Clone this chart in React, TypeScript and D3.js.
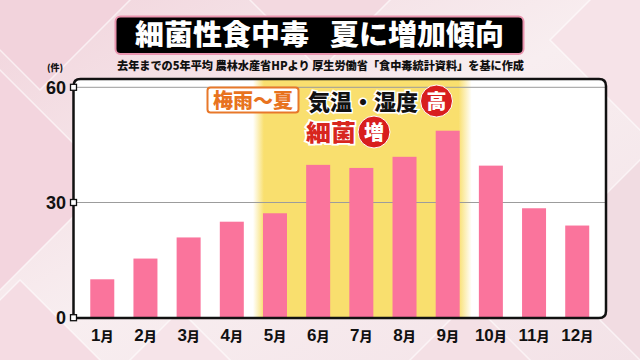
import React from "react";
import * as d3 from "d3";

const months = ["1月", "2月", "3月", "4月", "5月", "6月", "7月", "8月", "9月", "10月", "11月", "12月"];
const monthNums = ["1", "2", "3", "4", "5", "6", "7", "8", "9", "10", "11", "12"];
const cases = [10, 15.4, 20.9, 25, 27.2, 39.8, 39, 41.9, 48.7, 39.6, 28.5, 24];
const yTicks = [0, 30, 60];
const titleParts = ["細菌性食中毒", "夏に増加傾向"];
const subtitle = "去年までの5年平均  農林水産省HPより  厚生労働省「食中毒統計資料」を基に作成";
const unitLabel = "(件)";
const highlightMonths = ["5月", "9月"];

const FONT = "'Noto Sans CJK JP', 'Noto Sans', sans-serif";
const NUMFONT = "'Liberation Sans', Arial, sans-serif";

export default function App() {
  const W = 640, H = 360;
  const box = { x0: 73.5, x1: 606, y0: 79, y1: 318 };
  const x = d3.scaleBand<string>().domain(months).range([73, 606.5]).paddingInner(0.444).paddingOuter(0.4);
  const y = d3.scaleLinear().domain([0, 60]).range([317.7, 87.3]);
  const hx0 = (x(highlightMonths[0]) as number) - 6;
  const hx1 = (x(highlightMonths[1]) as number) + x.bandwidth() + 8;

  const diamonds = [
    { cx: 40, cy: 0, r: 90, c: "#F2D3DC" },
    { cx: 0, cy: 180, r: 110, c: "#F3D5DE" },
    { cx: 20, cy: 360, r: 80, c: "#F5DCE3" },
    { cx: 640, cy: 40, r: 90, c: "#F6E3E8" },
    { cx: 640, cy: 260, r: 100, c: "#F1DCE2" },
    { cx: 320, cy: 0, r: 70, c: "#F3D9E0" },
    { cx: 470, cy: 360, r: 60, c: "#F4E0E5" },
    { cx: 180, cy: 370, r: 60, c: "#F6E4E9" },
  ];

  return (
    <svg width={W} height={H} style={{ position: "absolute", left: 0, top: 0 }} fontFamily={FONT}>
      <defs>
        <linearGradient id="bg" x1="0" y1="0" x2="1" y2="1">
          <stop offset="0" stopColor="#F1D4DC" />
          <stop offset="0.5" stopColor="#F8EEF0" />
          <stop offset="1" stopColor="#F3E2E7" />
        </linearGradient>
        <linearGradient id="hl" x1="0" y1="0" x2="1" y2="0">
          <stop offset="0" stopColor="#F9DF6E" stopOpacity="0" />
          <stop offset="0.05" stopColor="#F9DF6E" stopOpacity="1" />
          <stop offset="0.94" stopColor="#F9DF6E" stopOpacity="1" />
          <stop offset="1" stopColor="#F9DF6E" stopOpacity="0" />
        </linearGradient>
        <clipPath id="boxclip">
          <rect x={box.x0} y={box.y0} width={box.x1 - box.x0} height={box.y1 - box.y0} rx={7} />
        </clipPath>
      </defs>
      <rect width={W} height={H} fill="url(#bg)" />
      {diamonds.map((d, i) => (
        <polygon
          key={i}
          points={`${d.cx},${d.cy - d.r} ${d.cx + d.r},${d.cy} ${d.cx},${d.cy + d.r} ${d.cx - d.r},${d.cy}`}
          fill={d.c}
          stroke="#FFFFFF"
          strokeOpacity={0.6}
          strokeWidth={1.5}
        />
      ))}

      {/* Title */}
      <rect x={115.5} y={16.5} width={408} height={37.5} rx={5} fill="#000" stroke="#E993AE" strokeWidth={2} />
      <text x={135} y={45} fill="#fff" fontSize={28} fontWeight={900} textLength={174} lengthAdjust="spacingAndGlyphs">
        {titleParts[0]}
      </text>
      <text x={330} y={45} fill="#fff" fontSize={28} fontWeight={900} textLength={174} lengthAdjust="spacingAndGlyphs">
        {titleParts[1]}
      </text>
      <text x={320.5} y={70} textAnchor="middle" fill="#111" fontSize={11.5} fontWeight={900} textLength={407} lengthAdjust="spacingAndGlyphs">
        {subtitle}
      </text>

      {/* Plot box */}
      <rect x={box.x0} y={box.y0} width={box.x1 - box.x0} height={box.y1 - box.y0} rx={7} fill="#fff" />
      <g clipPath="url(#boxclip)">
        <rect x={hx0 - 4} y={box.y0} width={hx1 - hx0 + 8} height={box.y1 - box.y0} fill="url(#hl)" />
      </g>
      {yTicks.filter((t) => t > 0).map((t) => (
        <line key={t} x1={box.x0} x2={box.x1} y1={y(t)} y2={y(t)} stroke="#9C9C9C" strokeWidth={1} />
      ))}
      {cases.map((v, i) => (
        <rect key={months[i]} x={x(months[i])} y={y(v)} width={x.bandwidth()} height={y(0) - y(v)} fill="#FA749C" />
      ))}
      <path
        d={`M${box.x0},${box.y1} L${box.x0},${box.y0 + 7} Q${box.x0},${box.y0} ${box.x0 + 7},${box.y0} L${box.x1 - 7},${box.y0} Q${box.x1},${box.y0} ${box.x1},${box.y0 + 7} L${box.x1},${box.y1 - 7} Q${box.x1},${box.y1} ${box.x1 - 7},${box.y1} Z`}
        fill="none"
        stroke="#111"
        strokeWidth={2.5}
      />
      {yTicks.map((t) => (
        <g key={t}>
          <rect x={box.x0 - 3} y={y(t) - 3} width={6} height={6} fill="#fff" stroke="#111" strokeWidth={1.3} />
          <text x={66} y={y(t) + 6.5} textAnchor="end" fontSize={18} fontWeight={700} fontFamily={NUMFONT} fill="#111">
            {t}
          </text>
        </g>
      ))}
      <text x={55} y={71} textAnchor="middle" fontSize={9} fontWeight={900} fill="#111">
        {unitLabel}
      </text>

      {months.map((m, i) => (
        <text key={m} x={(x(m) as number) + x.bandwidth() / 2} y={341} textAnchor="middle" fill="#111" fontWeight={900}>
          <tspan fontSize={17} fontFamily={NUMFONT} fontWeight={700}>{monthNums[i]}</tspan>
          <tspan fontSize={13}>月</tspan>
        </text>
      ))}

      {/* Annotation */}
      <rect x={207.5} y={87.5} width={91} height={25} rx={3} fill="#fff" stroke="#E8782A" strokeWidth={2} />
      <text x={253} y={107.5} textAnchor="middle" fill="#E8731E" fontSize={20} fontWeight={900} textLength={80} lengthAdjust="spacingAndGlyphs">
        梅雨〜夏
      </text>
      <text x={308} y={110} fill="#111" fontSize={22} fontWeight={900} stroke="#fff" strokeWidth={3} paintOrder="stroke" textLength={110} lengthAdjust="spacingAndGlyphs">
        気温・湿度
      </text>
      <circle cx={436.5} cy={101} r={16} fill="#D81E1E" stroke="#fff" strokeWidth={1} />
      <text x={436.5} y={108.5} textAnchor="middle" fill="#fff" fontSize={20} fontWeight={900}>
        高
      </text>
      <text x={306} y={141} fill="#D8261E" fontSize={23} fontWeight={900} stroke="#fff" strokeWidth={3.5} paintOrder="stroke" textLength={50} lengthAdjust="spacingAndGlyphs">
        細菌
      </text>
      <circle cx={374} cy={132} r={16} fill="#D81E1E" stroke="#fff" strokeWidth={1} />
      <text x={374} y={139.5} textAnchor="middle" fill="#fff" fontSize={20} fontWeight={900}>
        増
      </text>
    </svg>
  );
}
